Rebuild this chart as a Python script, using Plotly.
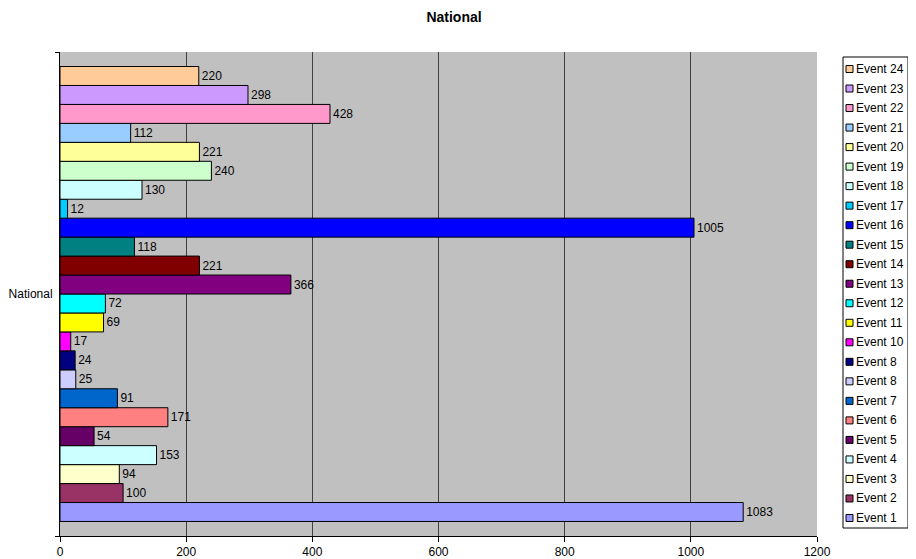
import plotly.graph_objects as go

category = ["National"]
events = ["Event 1", "Event 2", "Event 3", "Event 4", "Event 5", "Event 6", "Event 7",
          "Event 8", "Event 8", "Event 10", "Event 11", "Event 12", "Event 13", "Event 14",
          "Event 15", "Event 16", "Event 17", "Event 18", "Event 19", "Event 20",
          "Event 21", "Event 22", "Event 23", "Event 24"]
values = [1083, 100, 94, 153, 54, 171, 91, 25, 24, 17, 69, 72, 366, 221,
          118, 1005, 12, 130, 240, 221, 112, 428, 298, 220]
colors = ["#9999FF", "#993366", "#FFFFCC", "#CCFFFF", "#660066", "#FF8080", "#0066CC",
          "#CCCCFF", "#000080", "#FF00FF", "#FFFF00", "#00FFFF", "#800080", "#800000",
          "#008080", "#0000FF", "#00CCFF", "#CCFFFF", "#CCFFCC", "#FFFF99",
          "#99CCFF", "#FF99CC", "#CC99FF", "#FFCC99"]
x_ticks = [0, 200, 400, 600, 800, 1000, 1200]

FONT = "Arial, Liberation Sans"

# page body has an 8px margin; figure sized to fit the 916x559 window
W, H = 908, 551
L, T = 52, 44
PW, PH = 757, 484

fig = go.Figure()
for name, v, c in zip(events, values, colors):
    fig.add_trace(go.Bar(
        y=category, x=[v], name=name, orientation="h",
        marker=dict(color=c, line=dict(color="black", width=1)),
        text=[str(v)], textposition="outside", cliponaxis=False,
        textfont=dict(family=FONT, size=12, color="black"),
        showlegend=False,
    ))

# custom compact legend (pixel positions converted to paper coords)
def px(x):
    return (x - (L + 8)) / PW

def py(y):
    return (T + 8 + PH - y) / PH

shapes = [dict(type="rect", xref="paper", yref="paper",
               x0=px(843), x1=px(908), y0=py(528), y1=py(57),
               fillcolor="white", line=dict(color="black", width=1), layer="above")]
annotations = []
n = len(events)
for i, (name, c) in enumerate(zip(events, colors)):
    yc = 518 - i * (518 - 69) / (n - 1)
    shapes.append(dict(type="rect", xref="paper", yref="paper",
                       x0=px(846), x1=px(853), y0=py(yc + 3.5), y1=py(yc - 3.5),
                       fillcolor=c, line=dict(color="black", width=1), layer="above"))
    annotations.append(dict(xref="paper", yref="paper", x=px(854), y=py(yc),
                            xanchor="left", yanchor="middle", text=name, showarrow=False,
                            font=dict(family=FONT, size=12, color="black")))

fig.update_layout(
    width=W, height=H,
    margin=dict(l=L, r=W - L - PW, t=T, b=H - T - PH, autoexpand=False),
    paper_bgcolor="white", plot_bgcolor="#C0C0C0",
    barmode="group", bargap=0.06, bargroupgap=0,
    font=dict(family=FONT, size=12, color="black"),
    title=dict(text="<b>National</b>", x=(454 - 8) / W, xanchor="center",
               y=1 - (17 - 8) / H, yanchor="middle",
               font=dict(size=14, color="black")),
    showlegend=False,
    shapes=shapes,
    annotations=annotations,
)
fig.update_xaxes(range=[0, 1200], tickvals=x_ticks, showgrid=True, gridcolor="#404040",
                 gridwidth=1, showline=True, linecolor="black", linewidth=1,
                 ticks="outside", ticklen=5, tickcolor="black", zeroline=False,
                 tickfont=dict(size=12))
fig.update_yaxes(range=[-0.5, 0.5], showline=True, linecolor="black", linewidth=1,
                 ticks="outside", tickson="boundaries", ticklen=4, tickcolor="black",
                 showgrid=False, tickfont=dict(size=12), automargin=False,
                 ticklabelstandoff=4)

fig.write_html("out.html")
